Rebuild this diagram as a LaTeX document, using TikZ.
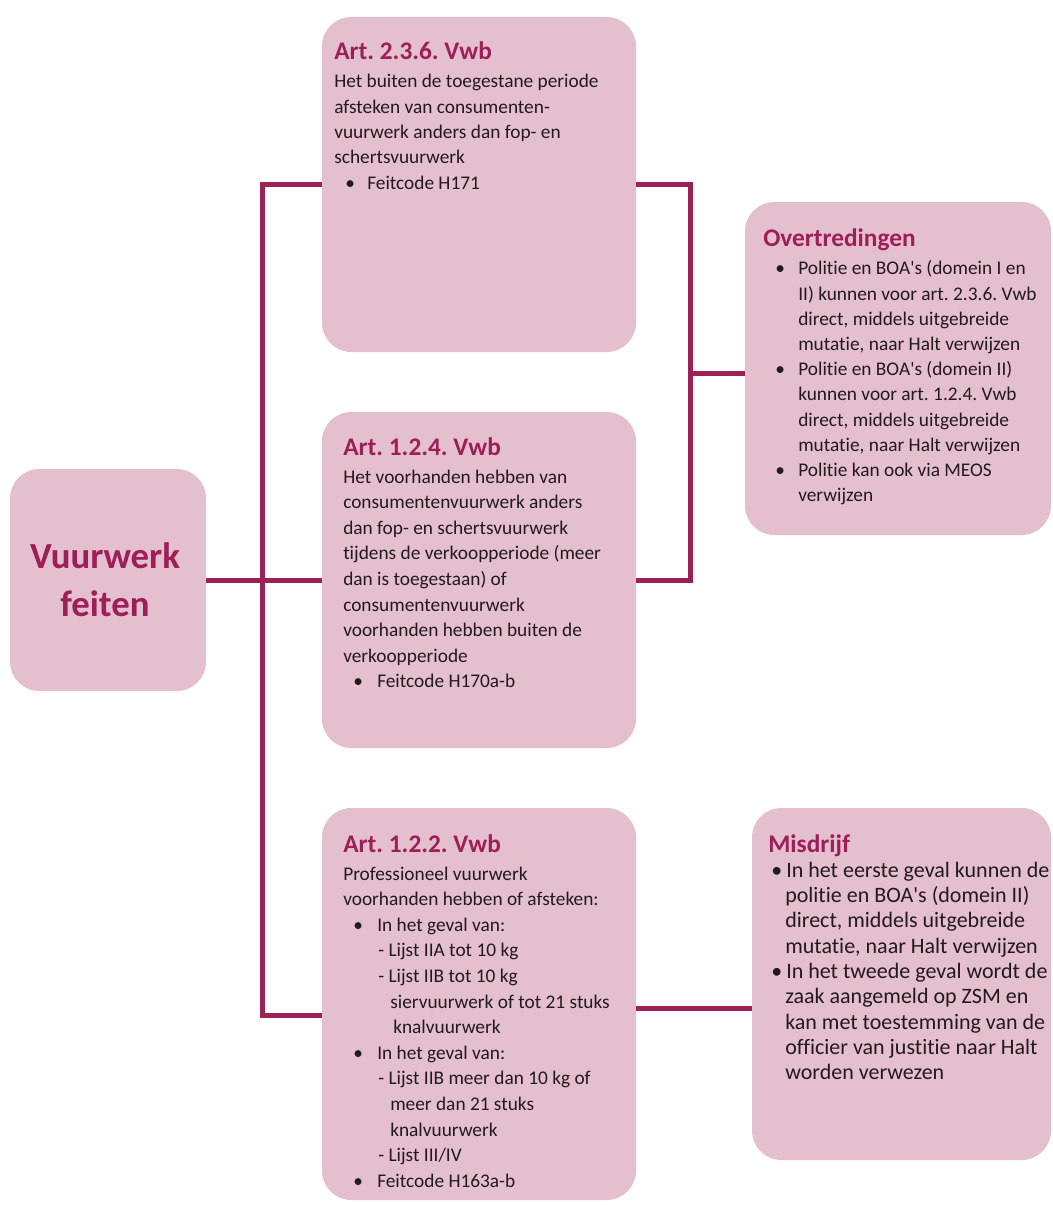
\documentclass[tikz,border=0pt]{standalone}
\usepackage{fontspec}
\setmainfont{Carlito}[RawFeature={-liga;-clig;-calt;-dlig}]
\frenchspacing
\newdimen\pxu \pxu=0.75pt
\newcommand\blt[2]{\hspace*{#1\pxu}\makebox[#2\pxu][l]{\textbullet}}
\newcommand\ind[1]{\hspace*{#1\pxu}}
\definecolor{boxfill}{RGB}{228,191,206}
\definecolor{linec}{RGB}{155,33,86}
\definecolor{titlec}{RGB}{158,30,88}
\definecolor{bodyc}{RGB}{35,25,30}
\tikzset{
  box/.style={draw=none, fill=boxfill, rounded corners=22pt, inner sep=0pt},
  conn/.style={draw=linec, line width=3.75pt, line join=miter},
  ttl/.style={anchor=base west, inner sep=0pt, text=titlec, font=\fontsize{19}{23}\selectfont\bfseries},
  body/.style={anchor=base west, inner sep=0pt, text=bodyc, font=\fontsize{14.5}{19}\selectfont},
  bodybig/.style={anchor=base west, inner sep=0pt, text=bodyc, font=\fontsize{16.5}{19}\selectfont},
}
\begin{document}
\begin{tikzpicture}[x=0.75pt,y=-0.75pt]
\fill[white] (0,0) rectangle (1052,1205);
\useasboundingbox (0,0) rectangle (1052,1205);

% boxes
\node[box, minimum width=147pt, minimum height=166.5pt] (vf) at (108,580) {};
\node[box, minimum width=235.5pt, minimum height=251.25pt] (b1) at (479,184.5) {};
\node[box, minimum width=235.5pt, minimum height=252pt] (b2) at (479,580) {};
\node[box, minimum width=235.5pt, minimum height=294pt] (b3) at (479,1004) {};
\node[box, minimum width=229.5pt, minimum height=249.75pt] (ov) at (898,368.5) {};
\node[box, minimum width=224.25pt, minimum height=264pt] (mi) at (901.5,984) {};

% connectors
\coordinate (tb) at ([xshift=-44.25pt,yshift=-8.25pt]b3.west);
\draw[conn] (vf.east) -- (b2.west);
\draw[conn] (b1.west) -| (tb) -- (tb -| b3.west);
\coordinate (rj) at ([xshift=40.5pt]b2.east);
\draw[conn] (b1.east) -| (rj) -- (b2.east);
\draw[conn] ([yshift=-3.4pt]ov.west) coordinate (oi) -- (oi -| rj);
\draw[conn] ([yshift=-3pt]b3.east) coordinate (m3) -- (m3 -| mi.west);

% main title
\node[anchor=base, inner sep=0pt, text=titlec, font=\fontsize{27.6}{36}\selectfont\bfseries] (vft) at (105,568)
  {\parbox[t]{150pt}{\centering Vuurwerk\\feiten}};

% box 1
\node[ttl] (t1) at (334,60) {Art. 2.3.6. Vwb};
\node[body] (x1) at (334,88) {\parbox[t]{225pt}{\raggedright
Het buiten de toegestane periode\\
afsteken van consumenten-\\
vuurwerk anders dan fop- en\\
schertsvuurwerk\\
\blt{11}{22}Feitcode H171}};

% box 2
\node[ttl] (t2) at (343,455) {Art. 1.2.4. Vwb};
\node[body] (x2) at (343,483) {\parbox[t]{225pt}{\raggedright\baselineskip=19.2pt
Het voorhanden hebben van\\
consumentenvuurwerk anders\\
dan fop- en schertsvuurwerk\\
tijdens de verkoopperiode (meer\\
dan is toegestaan) of\\
consumentenvuurwerk\\
voorhanden hebben buiten de\\
verkoopperiode\\
\blt{10}{24}Feitcode H170a-b}};

% box 3
\node[ttl] (t3) at (343,852) {Art. 1.2.2. Vwb};
\node[body] (x3) at (343,880) {\parbox[t]{225pt}{\raggedright\baselineskip=19.2pt
Professioneel vuurwerk\\
voorhanden hebben of afsteken:\\
\blt{10}{24}In het geval van:\\
\ind{35}- Lijst IIA tot 10 kg\\
\ind{35}- Lijst IIB tot 10 kg\\
\ind{47}siervuurwerk of tot 21 stuks\\
\ind{50}knalvuurwerk\\
\blt{10}{24}In het geval van:\\
\ind{35}- Lijst IIB meer dan 10 kg of\\
\ind{47}meer dan 21 stuks\\
\ind{47}knalvuurwerk\\
\ind{35}- Lijst III/IV\\
\blt{10}{24}Feitcode H163a-b}};

% Overtredingen
\node[ttl] (t4) at (763,247) {Overtredingen};
\node[body] (x4) at (763,275) {\parbox[t]{225pt}{\raggedright\baselineskip=18.9pt
\blt{12}{23}Politie en BOA\textquotesingle s (domein I en\\
\ind{35}II) kunnen voor art. 2.3.6. Vwb\\
\ind{35}direct, middels uitgebreide\\
\ind{35}mutatie, naar Halt verwijzen\\
\blt{12}{23}Politie en BOA\textquotesingle s (domein II)\\
\ind{35}kunnen voor art. 1.2.4. Vwb\\
\ind{35}direct, middels uitgebreide\\
\ind{35}mutatie, naar Halt verwijzen\\
\blt{12}{23}Politie kan ook via MEOS\\
\ind{35}verwijzen}};

% Misdrijf
\node[ttl] (t5) at (768,852) {Misdrijf};
\node[bodybig] (x5) at (768,877) {\parbox[t]{225pt}{\raggedright\baselineskip=19pt
\blt{3}{15}In het eerste geval kunnen de\\
\ind{17}politie en BOA\textquotesingle s (domein II)\\
\ind{17}direct, middels uitgebreide\\
\ind{17}mutatie, naar Halt verwijzen\\
\blt{3}{15}In het tweede geval wordt de\\
\ind{17}zaak aangemeld op ZSM en\\
\ind{17}kan met toestemming van de\\
\ind{17}officier van justitie naar Halt\\
\ind{17}worden verwezen}};
\end{tikzpicture}
\end{document}
